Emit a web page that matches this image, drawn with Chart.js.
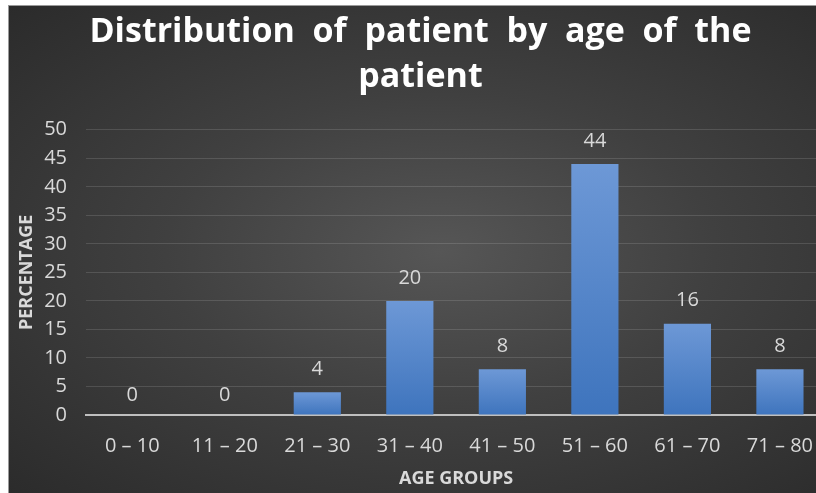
<!DOCTYPE html>
<html>
<head>
<meta charset="utf-8">
<script src="https://cdn.jsdelivr.net/npm/chart.js@4"></script>
<style>
  html, body { margin: 0; padding: 0; background: #fff; overflow: hidden; }
  #frame {
    position: absolute; left: 8px; top: 5px; width: 830px; height: 490px;
    border-left: 1px solid #9a9a9a; border-top: 1px solid #9a9a9a;
    background: radial-gradient(ellipse at 52% 50%, #565656 0%, #404040 45%, #2b2b2b 100%);
  }
  canvas { position: absolute; left: 0; top: 0; }
</style>
</head>
<body>
<div id="frame"><canvas id="chart" width="823" height="487"></canvas></div>
<script>
const ageGroups = ["0 \u2013 10", "11 \u2013 20", "21 \u2013 30", "31 \u2013 40", "41 \u2013 50", "51 \u2013 60", "61 \u2013 70", "71 \u2013 80"];
const percentages = [0, 0, 4, 20, 8, 44, 16, 8];
const yTicks = [0, 5, 10, 15, 20, 25, 30, 35, 40, 45, 50];

const textColor = "#d9d9d9";
const fontName = "'Open Sans', Lato, sans-serif";

// value labels above each bar
const barLabels = {
  id: "barLabels",
  afterDatasetsDraw(chart) {
    const ctx = chart.ctx;
    const meta = chart.getDatasetMeta(0);
    ctx.save();
    ctx.fillStyle = textColor;
    ctx.font = "20px " + fontName;
    ctx.textAlign = "center";
    ctx.textBaseline = "middle";
    meta.data.forEach((bar, i) => {
      ctx.fillText(String(percentages[i]), bar.x, bar.y - (percentages[i] === 0 ? 20 : 23));
    });
    ctx.restore();
  },
};

const chart = document.getElementById("chart");

new Chart(chart, {
  type: "bar",
  data: {
    labels: ageGroups,
    datasets: [
      {
        label: "Percentage",
        data: percentages,
        backgroundColor: (c) => {
          const ch = c.chart;
          if (!ch.chartArea || c.parsed === undefined) return "#4a7fc6";
          const y = ch.scales.y;
          const top = y.getPixelForValue(c.parsed.y);
          const base = y.getPixelForValue(0);
          if (base - top < 1) return "#4a7fc6";
          const g = ch.ctx.createLinearGradient(0, top, 0, base);
          g.addColorStop(0, "#6d98d6");
          g.addColorStop(1, "#3e74bd");
          return g;
        },
        borderWidth: 0,
        barPercentage: 1,
        categoryPercentage: 0.51,
      },
    ],
  },
  options: {
    responsive: false,
    animation: false,
    layout: { padding: { left: 0, right: 0, top: 4, bottom: 0 } },
    plugins: {
      legend: { display: false },
      tooltip: { enabled: false },
      title: {
        display: true,
        text: ["Distribution  of  patient  by  age  of  the", "patient"],
        color: "#ffffff",
        font: { family: fontName, size: 34, weight: "bold", lineHeight: 1.32 },
        padding: { top: 0, bottom: 30 },
      },
    },
    scales: {
      x: {
        afterFit: (s) => { s.height = 78; },
        grid: { display: false, drawTicks: false },
        border: { display: true, color: "#bfbfbf", width: 2 },
        ticks: { color: textColor, font: { family: fontName, size: 20 }, padding: 19, maxRotation: 0 },
        title: {
          display: true,
          text: "AGE GROUPS",
          color: textColor,
          font: { family: fontName, size: 18, weight: "bold" },
          padding: { top: 0, bottom: 3 },
        },
      },
      y: {
        min: 0,
        max: 50,
        afterBuildTicks: (s) => { s.ticks = yTicks.map((v) => ({ value: v })); },
        afterFit: (s) => { s.width = 77; },
        grid: {
          drawTicks: false,
          color: (c) => (c.tick && c.tick.value === 0 ? "rgba(0,0,0,0)" : "rgba(255,255,255,0.13)"),
          lineWidth: 1,
        },
        border: { display: false },
        ticks: { color: textColor, font: { family: fontName, size: 20 }, padding: 19 },
        title: {
          display: true,
          text: "PERCENTAGE",
          color: textColor,
          font: { family: fontName, size: 18, weight: "bold" },
          padding: { top: 7, bottom: 0 },
        },
      },
    },
  },
  plugins: [barLabels],
});
</script>
</body>
</html>
